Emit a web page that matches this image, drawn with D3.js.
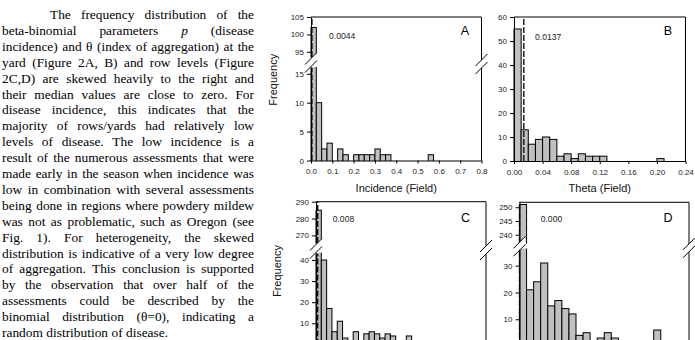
<!DOCTYPE html>
<html>
<head>
<meta charset="utf-8">
<script src="https://cdn.jsdelivr.net/npm/d3@7"></script>
<style>
  body { margin: 0; background: #fff; }
  svg { display: block; }
</style>
</head>
<body>
<svg id="fig" width="695" height="340"></svg>
<script>
// text column, one entry per printed line (_p_ = italic)
const paragraph = [
  "The frequency distribution of the",
  "beta-binomial parameters _p_ (disease",
  "incidence) and θ (index of aggregation) at the",
  "yard (Figure 2A, B) and row levels (Figure",
  "2C,D) are skewed heavily to the right and",
  "their median values are close to zero. For",
  "disease incidence, this indicates that the",
  "majority of rows/yards had relatively low",
  "levels of disease. The low incidence is a",
  "result of the numerous assessments that were",
  "made early in the season when incidence was",
  "low in combination with several assessments",
  "being done in regions where powdery mildew",
  "was not as problematic, such as Oregon (see",
  "Fig. 1). For heterogeneity, the skewed",
  "distribution is indicative of a very low degree",
  "of aggregation. This conclusion is supported",
  "by the observation that over half of the",
  "assessments could be described by the",
  "binomial distribution (θ=0), indicating a",
  "random distribution of disease."
];

const incidenceTicks = [0, 0.1, 0.2, 0.3, 0.4, 0.5, 0.6, 0.7, 0.8];
const thetaTicks = [0, 0.04, 0.08, 0.12, 0.16, 0.20, 0.24];

// histogram counts, bins start at 0
const yardIncidence = [102, 10, 2, 3, 0, 2, 1, 0, 1, 1, 1, 1, 2, 1, 1, 0, 0, 0, 0, 0, 0, 0, 1];
const yardTheta = [55, 13, 7, 9, 10, 9, 2, 3, 1, 3, 2, 2, 2, 0, 0, 0, 0, 0, 0, 0, 1];
const rowIncidence = [285, 40, 17, 6, 11, 3, 0, 6, 0, 5, 6, 5, 3, 5, 4, 0, 0, 4];
const rowTheta = [251, 21, 24, 31, 15, 17, 14, 12, 4, 5, 2, 3, 5, 3, 0, 0, 0, 0, 0, 6];

const medians = [0.0044, 0.0137, 0.008, 0.000];
const medianLabels = ["0.0044", "0.0137", "0.008", "0.000"];
const panelLetters = ["A", "B", "C", "D"];

const svg = d3.select("#fig");
const sans = "'Liberation Sans', Arial, sans-serif";

// ---- paragraph, justified word by word
const para = svg.append("g")
  .attr("font-family", "'Liberation Serif', 'Times New Roman', serif")
  .attr("font-size", 13.4)
  .attr("fill", "#000");

const textRight = 254;
paragraph.forEach((line, i) => {
  const y = 19 + i * 15.9;
  const x0 = i === 0 ? 50 : 2;
  const words = line.split(" ").map(w => {
    const italic = /^_.*_$/.test(w);
    const t = para.append("text")
      .attr("y", y)
      .style("font-style", italic ? "italic" : null)
      .text(italic ? w.slice(1, -1) : w);
    return { node: t, w: t.node().getComputedTextLength() };
  });
  const total = d3.sum(words, d => d.w);
  const last = i === paragraph.length - 1;
  const gap = last ? 3.4 : (textRight - x0 - total) / (words.length - 1);
  let x = x0;
  words.forEach(d => {
    d.node.attr("x", x);
    x += d.w + gap;
  });
});

// ---- panels (C and D are cut by the page edge, so their bottom labels are not drawn)
const panels = [
  {
    counts: yardIncidence, binW: 0.025, xDom: [0, 0.8], xTicks: incidenceTicks, fmt: ".1f",
    left: 311, right: 481.5, top: 17, bottom: 160.5, xLabels: true,
    segs: [
      { dom: [93.5, 105], range: [57, 17], ticks: [95, 100, 105] },
      { dom: [0, 16], range: [160.5, 68], ticks: [0, 5, 10, 15] }
    ],
    breakY: 62.5, medX: 329, medY: 39.3, letterX: 465, letterY: 34.5,
    xTitle: "Incidence (Field)", yTitleX: 273
  },
  {
    counts: yardTheta, binW: 0.01, xDom: [0, 0.24], xTicks: thetaTicks, fmt: ".2f",
    left: 514, right: 685.5, top: 17, bottom: 161, xLabels: true,
    segs: [
      { dom: [0, 60], range: [161, 17], ticks: [0, 10, 20, 30, 40, 50, 60] }
    ],
    breakY: null, medX: 535, medY: 39.5, letterX: 668, letterY: 34.5,
    xTitle: "Theta (Field)", yTitleX: null
  },
  {
    counts: rowIncidence, binW: 0.025, xDom: [0, 0.8], xTicks: incidenceTicks, fmt: ".1f",
    left: 316, right: 486, top: 201.7, bottom: 344.4, xLabels: false,
    segs: [
      { dom: [265.5, 290], range: [243, 201.7], ticks: [270, 280, 290] },
      { dom: [0, 43], range: [344.4, 253.7], ticks: [10, 20, 30, 40] }
    ],
    breakY: 248.5, medX: 332.7, medY: 221.7, letterX: 465.5, letterY: 221.7,
    xTitle: null, yTitleX: 277
  },
  {
    counts: rowTheta, binW: 0.01, xDom: [0, 0.24], xTicks: thetaTicks, fmt: ".2f",
    left: 519.5, right: 689, top: 202.3, bottom: 346.1, xLabels: false,
    segs: [
      { dom: [237, 251.8], range: [243, 202.3], ticks: [240, 245, 250] },
      { dom: [0, 36], range: [346.1, 249.6], ticks: [10, 20, 30] }
    ],
    breakY: 246.3, medX: 540.7, medY: 221.7, letterX: 668, letterY: 221.7,
    xTitle: null, yTitleX: null
  }
];

const defs = svg.append("defs");

function drawBreak(g, x, cy) {
  const h = 6, d = 4;
  g.append("polygon")
    .attr("points", [[x - h, cy - d + h], [x + h, cy - d - h], [x + h, cy + d - h], [x - h, cy + d + h]].join(" "))
    .attr("fill", "#fff");
  [-d, d].forEach(o => {
    g.append("line")
      .attr("x1", x - h).attr("y1", cy + o + h)
      .attr("x2", x + h).attr("y2", cy + o - h)
      .attr("stroke", "#000").attr("stroke-width", 1);
  });
}

panels.forEach((p, pi) => {
  const g = svg.append("g");
  const x = d3.scaleLinear().domain(p.xDom).range([p.left, p.right]);

  // frame: top and right edges
  g.append("path")
    .attr("d", `M${p.left},${p.top}H${p.right}V${p.bottom}`)
    .attr("fill", "none").attr("stroke", "#000").attr("stroke-width", 1);

  p.segs.forEach((s, si) => {
    const y = d3.scaleLinear().domain(s.dom).range(s.range);
    const clipId = `clip-${pi}-${si}`;
    defs.append("clipPath").attr("id", clipId)
      .append("rect")
      .attr("x", p.left - 5).attr("width", p.right - p.left + 10)
      .attr("y", s.range[1] - 1).attr("height", s.range[0] - s.range[1] + 1.5);

    const sg = g.append("g").attr("clip-path", `url(#${clipId})`);

    // bars
    sg.selectAll("rect.bar")
      .data(p.counts.map((c, i) => ({ c, i })).filter(d => d.c > s.dom[0]))
      .join("rect")
      .attr("class", "bar")
      .attr("x", d => x(d.i * p.binW))
      .attr("width", d => x((d.i + 1) * p.binW) - x(d.i * p.binW))
      .attr("y", d => y(Math.min(d.c, s.dom[1] + 5)))
      .attr("height", d => y(s.dom[0]) + 10 - y(Math.min(d.c, s.dom[1] + 5)))
      .attr("fill", "#c0c0c0")
      .attr("stroke", "#000")
      .attr("stroke-width", 1);

    // median line
    sg.append("line")
      .attr("x1", x(medians[pi])).attr("x2", x(medians[pi]))
      .attr("y1", s.range[0]).attr("y2", s.range[1])
      .attr("stroke", "#111").attr("stroke-width", 1.4)
      .attr("stroke-dasharray", "6,2");

    // y axis for this segment
    g.append("g")
      .attr("transform", `translate(${p.left},0)`)
      .call(d3.axisLeft(y).tickValues(s.ticks).tickSize(4).tickSizeOuter(0).tickPadding(3));
  });

  // x axis
  g.append("g")
    .attr("transform", `translate(0,${p.bottom})`)
    .call(d3.axisBottom(x).tickValues(p.xTicks)
      .tickFormat(p.xLabels ? d3.format(p.fmt) : () => "")
      .tickSize(3).tickSizeOuter(0).tickPadding(5));

  if (p.breakY !== null) {
    drawBreak(g, p.left, p.breakY);
    drawBreak(g, p.right, p.breakY + 1.5);
  }

  g.append("text")
    .attr("x", p.medX).attr("y", p.medY)
    .attr("font-family", sans).attr("font-size", 8.6).attr("fill", "#222")
    .text(medianLabels[pi]);

  g.append("text")
    .attr("x", p.letterX).attr("y", p.letterY)
    .attr("text-anchor", "middle")
    .attr("font-family", sans).attr("font-size", 12.5).attr("fill", "#000")
    .text(panelLetters[pi]);

  if (p.xTitle) {
    g.append("text")
      .attr("x", (p.left + p.right) / 2).attr("y", 192)
      .attr("text-anchor", "middle")
      .attr("font-family", sans).attr("font-size", 11).attr("fill", "#111")
      .text(p.xTitle);
  }
  if (p.yTitleX !== null) {
    const mid = (p.top + p.bottom) / 2 + (pi === 0 ? -9 : -2);
    g.append("text")
      .attr("transform", `translate(${p.yTitleX},${mid}) rotate(-90)`)
      .attr("text-anchor", "middle")
      .attr("dominant-baseline", "central")
      .attr("font-family", sans).attr("font-size", 11).attr("fill", "#111")
      .text("Frequency");
  }
});

svg.selectAll(".tick text")
  .attr("font-family", sans)
  .attr("font-size", 8)
  .attr("fill", "#222");
svg.selectAll(".domain, .tick line").attr("stroke", "#000");
</script>
</body>
</html>
